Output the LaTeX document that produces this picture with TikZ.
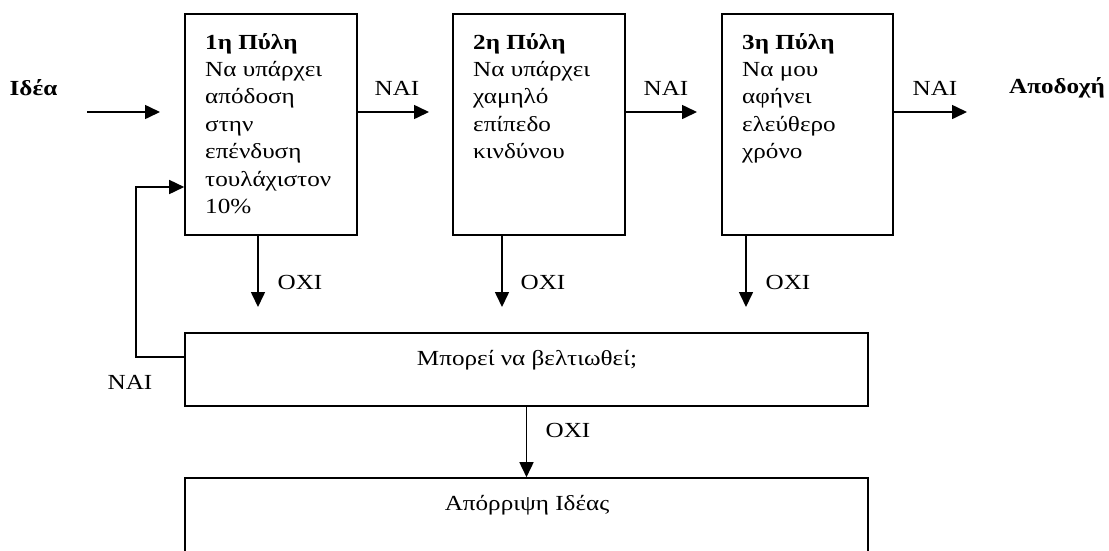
\documentclass[tikz,border=0pt]{standalone}
\usepackage{fontspec}
\setmainfont[FakeStretch=1.17]{Liberation Serif}
\usetikzlibrary{arrows.meta}
\begin{document}
\begin{tikzpicture}[x=1pt,y=-1pt,
  every node/.style={font=\fontsize{21.5}{27.4}\selectfont},
  gate/.style={draw,line width=1.6pt,minimum width=172pt,minimum height=221pt,inner sep=0pt},
  wide/.style={draw,line width=1.6pt,minimum width=683pt,inner sep=0pt},
  gtext/.style={anchor=north west,inner sep=0pt,align=left},
  lbl/.style={inner sep=0pt},
  arr/.style={line width=1.6pt,-{Triangle[length=15pt,width=14pt]}},
  ln/.style={line width=1.6pt}]
\useasboundingbox (0,0) rectangle (1109,550);
\clip (0,0) rectangle (1109,550);
\fill[white] (0,0) rectangle (1109,550);

\node[gate] (g1) at (271,124.5) {};
\node[gate] (g2) at (539,124.5) {};
\node[gate,minimum width=171pt] (g3) at (807.5,124.5) {};

\node[gtext] (t1) at (205,33) {\textbf{1η Πύλη}\\Να υπάρχει\\απόδοση\\στην\\επένδυση\\τουλάχιστον\\10\%};
\node[gtext] (t2) at (473,33) {\textbf{2η Πύλη}\\Να υπάρχει\\χαμηλό\\επίπεδο\\κινδύνου};
\node[gtext] (t3) at (742,33) {\textbf{3η Πύλη}\\Να μου\\αφήνει\\ελεύθερο\\χρόνο};

\node[wide,minimum height=73pt] (mid) at (526.5,369.5) {};
\node[lbl] (midt) at (527,360) {Μπορεί να βελτιωθεί;};
\node[wide,minimum height=110pt] (rej) at (526.5,533) {};
\node[lbl] (rejt) at (527,505) {Απόρριψη Ιδέας};

\node[lbl,font=\fontsize{21.5}{24}\selectfont\bfseries] (idea) at (33.5,88) {Ιδέα};
\node[lbl,font=\fontsize{21.5}{24}\selectfont\bfseries] (acc) at (1057,88) {Αποδοχή};
\node[lbl] (n1) at (397,88) {ΝΑΙ};
\node[lbl] (n2) at (666,88) {ΝΑΙ};
\node[lbl] (n3) at (935,88) {ΝΑΙ};
\node[lbl] (o1) at (300,282) {ΟΧΙ};
\node[lbl] (o2) at (543,282) {ΟΧΙ};
\node[lbl] (o3) at (788,282) {ΟΧΙ};
\node[lbl] (o4) at (568,430) {ΟΧΙ};
\node[lbl] (n4) at (130,382) {ΝΑΙ};

\coordinate (istart) at (87,112);
\coordinate (iend) at (160,112);
\coordinate (a1) at (429,112);
\coordinate (a2) at (697,112);
\coordinate (a3) at (967,112);
\coordinate (d1) at (258,307);
\coordinate (d2) at (502,307);
\coordinate (d3) at (746,307);
\coordinate (fb) at (136,357);
\coordinate (fbtop) at (136,187);

\draw[arr] (istart) -- (iend);
\draw[arr] (g1.north east |- a1) -- (a1);
\draw[arr] (g2.north east |- a2) -- (a2);
\draw[arr] (g3.north east |- a3) -- (a3);
\draw[arr] (g1.south -| d1) -- (d1);
\draw[arr] (g2.south -| d2) -- (d2);
\draw[arr] (g3.south -| d3) -- (d3);
\draw[arr] (mid.west |- fb) -- (fb) -- (fbtop) -- (g1.west |- fbtop);
\draw[arr] (mid.south) -- (rej.north);
\end{tikzpicture}
\end{document}
